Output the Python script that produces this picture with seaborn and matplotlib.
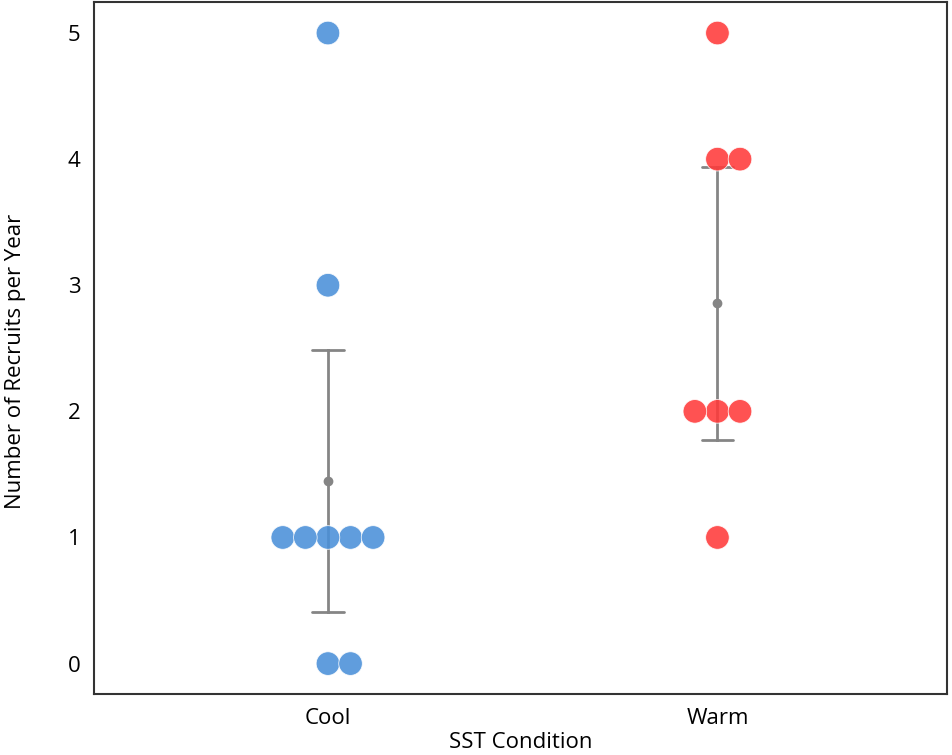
import types

import numpy as np
import pandas as pd
import seaborn as sns
from matplotlib import pyplot as plt
from matplotlib.collections import PathCollection

# recruits per year
cool_counts = [5, 3, 1, 1, 1, 1, 1, 0, 0]
warm_counts = [5, 4, 4, 2, 2, 2, 1]
conditions = ["Cool", "Warm"]
colors = {"Cool": "#4a90d9", "Warm": "#ff3a3a"}

records = [("Cool", v) for v in cool_counts] + [("Warm", v) for v in warm_counts]
df = pd.DataFrame.from_records(records, columns=["SST Condition", "Number of Recruits per Year"])

sns.set_theme(style="white")
plt.rcParams["font.family"] = ["Open Sans", "DejaVu Sans"]

fig = plt.figure(figsize=(9.52, 7.55), dpi=100)
ax = fig.add_axes([0.099, 0.081, 0.896, 0.917])

sns.pointplot(data=df, x="SST Condition", y="Number of Recruits per Year", order=conditions,
              errorbar=("se", 1.96), capsize=0.08, color="#858585",
              linestyle="none", markersize=5, err_kws={"linewidth": 2}, ax=ax, zorder=1)
n_before = len(ax.collections)
sns.swarmplot(data=df, x="SST Condition", y="Number of Recruits per Year", order=conditions,
              hue="SST Condition", palette=colors, size=17, alpha=0.88,
              edgecolor="white", linewidth=0.6, legend=False, ax=ax, zorder=3)

ax.set_xlim(-0.6, 1.59)
ax.set_ylim(-0.24, 5.25)
ax.set_yticks(range(6))
ax.tick_params(axis="both", labelsize=16, length=0, pad=10, labelcolor="black")
ax.set_xlabel("SST Condition", fontsize=16, labelpad=2, color="black")
ax.set_ylabel("Number of Recruits per Year", fontsize=16, color="black")
ax.yaxis.set_label_coords(-0.08, 0.48)
for spine in ax.spines.values():
    spine.set_color("#333333")
    spine.set_linewidth(1.5)

# the reference swarm spreads to the right first and the dots touch a little:
# mirror the swarm around each category and pull it in slightly
fig.canvas.draw()
for coll in ax.collections[n_before:]:
    off = np.asarray(coll.get_offsets()).copy()
    if len(off) == 0:
        continue
    center = np.round(np.median(off[:, 0]))
    off[:, 0] = center - 0.88 * (off[:, 0] - center)
    coll.set_offsets(off)
    coll.draw = types.MethodType(PathCollection.draw, coll)

plt.savefig("out.png", dpi=100)
plt.close(fig)
